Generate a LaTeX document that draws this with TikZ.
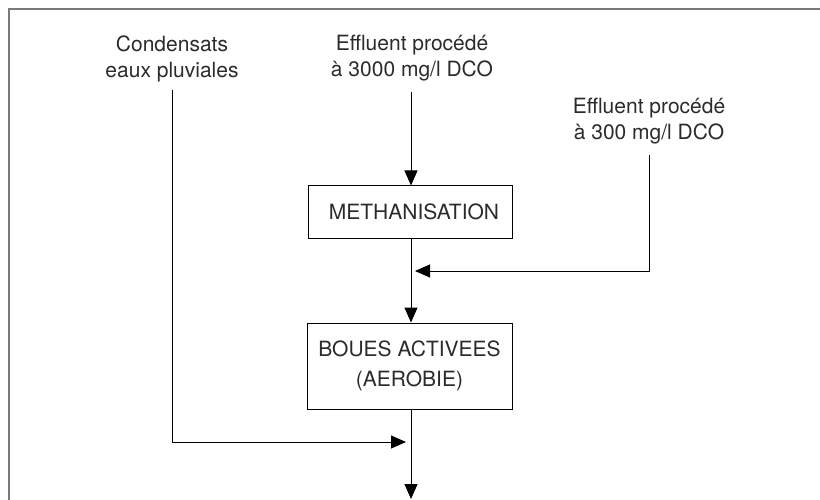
\documentclass[tikz,border=0pt]{standalone}
\usepackage{fontspec}
\setmainfont{TeX Gyre Heros}
\usepackage{tikz}
\usetikzlibrary{arrows.meta, calc}
\usepackage{xcolor}
\definecolor{framecolor}{HTML}{7A7A7A}
\definecolor{textcolor}{HTML}{2B2B2B}

\begin{document}
\begin{tikzpicture}[x=1pt, y=-1pt,
    srctext/.style={align=center, inner sep=0pt, text=textcolor,
        font=\fontsize{21}{26}\selectfont},
    procbox/.style={draw, line width=1pt, inner sep=0pt, align=center,
        text=textcolor, font=\fontsize{21}{30}\selectfont},
    flow/.style={line width=1pt, arrows={-{Triangle[length=15pt,width=13pt]}}}]

    \useasboundingbox (0,0) rectangle (820,500);

    % Frame
    \draw[framecolor, line width=1.6pt] (9,500) |- (820,9);

    % Sources
    \node[srctext] (condens) at (172,59) {Condensats\\eaux pluviales};
    \node[srctext] (src3000) at (412,58) {Effluent procédé\\à 3000 mg/l DCO};
    \node[srctext] (src300)  at (649,121) {Effluent procédé\\à 300 mg/l DCO};

    % Treatment steps
    \node[procbox, minimum width=204pt, minimum height=52pt] (meth)  at (410,212) {\hspace*{8pt}METHANISATION};
    \node[procbox, minimum width=205pt, minimum height=86pt] (boues) at (409.5,366) {BOUES ACTIVEES\\(AEROBIE)};

    % Junctions
    \coordinate (j300)  at (411,271);
    \coordinate (jcond) at (411,442);
    \coordinate (out)   at (411,499);

    % Draw the flows
    \draw[flow, shorten <=11pt] (src3000.south -| 411,0) -- (meth.north -| 411,0);
    \draw[flow] (meth.south -| 411,0) -- (boues.north -| 411,0);
    \draw[flow, shorten <=11pt, shorten >=4pt] (src300.south) |- (j300);
    \draw[flow, shorten <=8pt, shorten >=5pt] (condens.south) |- (jcond);
    \draw[flow] (boues.south -| 411,0) -- (out);
\end{tikzpicture}
\end{document}
